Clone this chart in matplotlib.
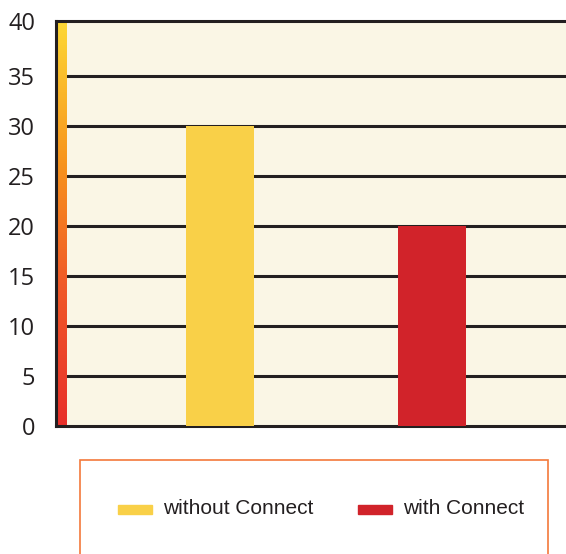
import matplotlib
matplotlib.use("Agg")
import matplotlib.pyplot as plt
import numpy as np
from matplotlib.colors import LinearSegmentedColormap
from matplotlib.patches import Rectangle

categories = ["without Connect", "with Connect"]
values = [30, 20]
colors = ["#F9D048", "#D1232A"]
yticks = [0, 5, 10, 15, 20, 25, 30, 35, 40]

W, H = 566, 554
YTOP = 40.5
fig = plt.figure(figsize=(W / 100, H / 100), dpi=100)
ax = fig.add_axes([56 / W, 1 - 426 / H, 510 / W, 405 / H])
ax.set_facecolor("#FAF6E5")

x = np.arange(len(categories))
ax.set_xlim(-0.774, 1.632)
ax.set_ylim(0, YTOP)

for yv in yticks[1:-1]:
    ax.axhline(yv, color="#231F20", lw=2.2, zorder=1)

ax.bar(x, values, width=0.32, color=colors, zorder=3)

# gradient strip on left
cmap = LinearSegmentedColormap.from_list(
    "g", [(0, "#E8302B"), (0.35, "#F05A28"), (0.65, "#F7941D"), (1.0, "#FDD835")])
grad = np.linspace(0, 1, 256).reshape(-1, 1)
ax.imshow(grad, aspect="auto", cmap=cmap, origin="lower",
          extent=[0.002, 0.02, 0, 1], transform=ax.transAxes, zorder=2)

for s in ["left", "bottom", "top"]:
    ax.spines[s].set_color("#231F20")
    ax.spines[s].set_linewidth(2.2)
ax.spines["right"].set_visible(False)

ax.set_xticks([])
# top label sits level with the top frame line
tick_pos = yticks[:-1] + [YTOP]
ax.set_yticks(tick_pos, labels=[str(v) for v in yticks])
ax.tick_params(axis="y", length=0, pad=15, labelsize=17, labelcolor="#231F20")
for lab in ax.get_yticklabels():
    lab.set_fontfamily("Open Sans")

# legend box
fig.patches.append(Rectangle((80 / W, -0.05), 468 / W, 1 - 460 / H + 0.05,
                             transform=fig.transFigure, fill=False,
                             edgecolor="#F4793B", lw=1.2))
hx = [118, 358]
tx = [163, 403]
for i, c in enumerate(categories):
    fig.patches.append(Rectangle((hx[i] / W, 1 - 514 / H), 34 / W, 9 / H,
                                 transform=fig.transFigure, color=colors[i]))
    fig.text(tx[i] / W, 1 - 508 / H, c, fontsize=15, family="Liberation Sans",
             color="#231F20", va="center", ha="left")

fig.savefig("out.png", dpi=100)
